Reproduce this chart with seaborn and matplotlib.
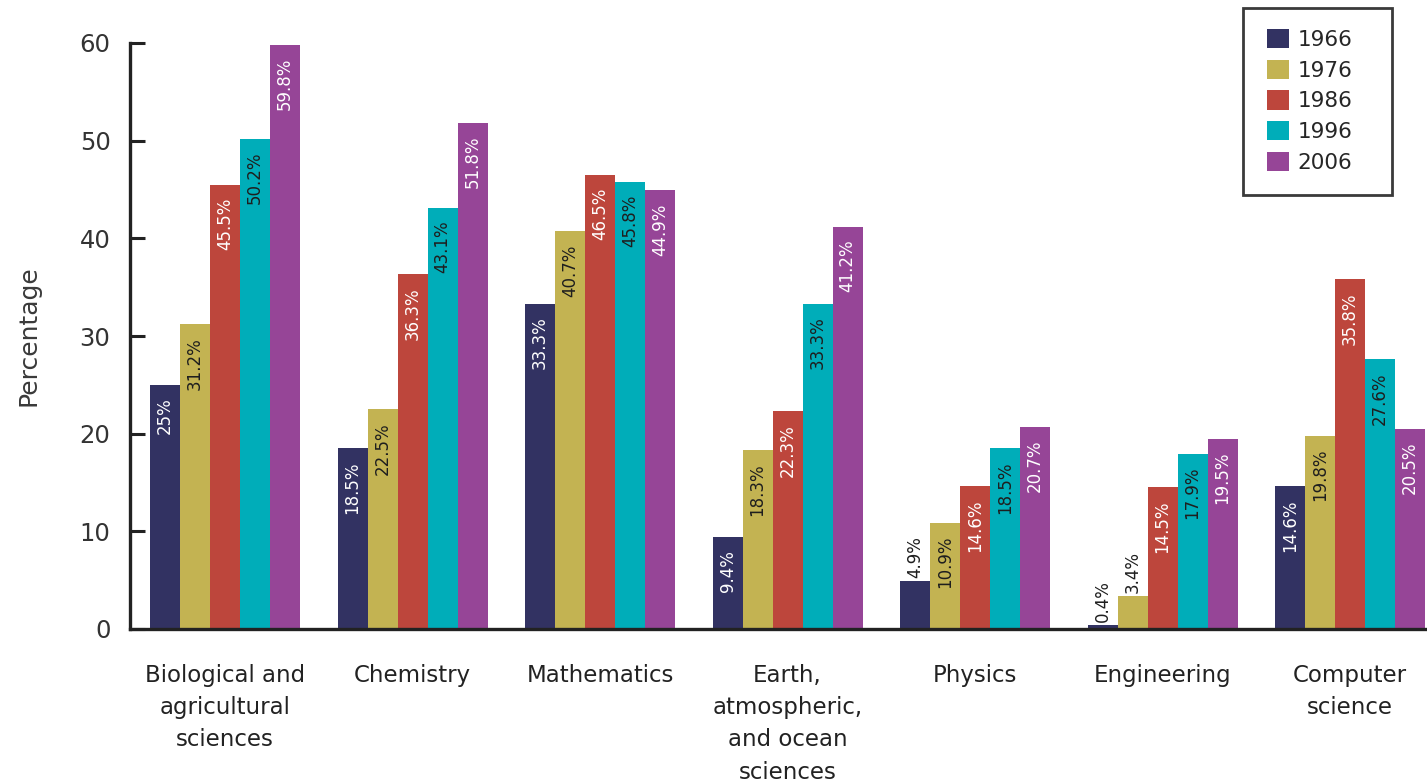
import matplotlib
matplotlib.use("Agg")
import matplotlib.pyplot as plt
from matplotlib.patches import Patch, Rectangle
import pandas as pd
import seaborn as sns

# Share of doctorates earned by women, by field and year
categories = [
    "Biological and\nagricultural\nsciences",
    "Chemistry",
    "Mathematics",
    "Earth,\natmospheric,\nand ocean\nsciences",
    "Physics",
    "Engineering",
    "Computer\nscience",
]
years = ["1966", "1976", "1986", "1996", "2006"]
v1966 = [25, 18.5, 33.3, 9.4, 4.9, 0.4, 14.6]
v1976 = [31.2, 22.5, 40.7, 18.3, 10.9, 3.4, 19.8]
v1986 = [45.5, 36.3, 46.5, 22.3, 14.6, 14.5, 35.8]
v1996 = [50.2, 43.1, 45.8, 33.3, 18.5, 17.9, 27.6]
v2006 = [59.8, 51.8, 44.9, 41.2, 20.7, 19.5, 20.5]
y_ticks = [0, 10, 20, 30, 40, 50, 60]

series = dict(zip(years, [v1966, v1976, v1986, v1996, v2006]))
colors = ["#323262", "#c3b352", "#bd463c", "#00adb9", "#964597"]
label_colors = ["white", "#1e1e1e", "white", "#1e1e1e", "white"]

rows = []
for yr, vals in series.items():
    for cat, v in zip(categories, vals):
        rows.append({"field": cat, "year": yr, "pct": v})
df = pd.DataFrame(rows)

sns.set_style("white")
plt.rcParams["font.family"] = ["DejaVu Sans"]

W, H = 1427, 784
fig = plt.figure(figsize=(W / 100, H / 100), dpi=100)
ax = fig.add_axes([130 / W, (H - 629) / H, 1 - 130 / W, (629 - 43) / H])

sns.barplot(data=df, x="field", y="pct", hue="year", order=categories,
            hue_order=years, palette=colors, width=0.8, saturation=1,
            linewidth=0, errorbar=None, ax=ax, legend=False)

# Value labels, rotated, inside the top of each bar (above very short bars)
for i, cont in enumerate(ax.containers):
    vals = series[years[i]]
    for bar, v in zip(cont, vals):
        x = bar.get_x() + bar.get_width() / 2
        txt = f"{v:g}%"
        if v < 6:
            ax.text(x, v + 0.3, txt, rotation=90, ha="center", va="bottom",
                    fontsize=12, color="#1e1e1e")
        else:
            ax.text(x, v - 1.3, txt, rotation=90, ha="center", va="top",
                    fontsize=12, color=label_colors[i])

ax.set_ylim(0, 60)
ax.set_xlim(-0.507, 6.41)
ax.set_yticks(y_ticks)
ax.set_xlabel("")
ax.set_ylabel("Percentage", fontsize=18, color="#3a3a3a", labelpad=28)

ax.tick_params(axis="y", direction="in", length=11, width=2.2, color="#222222",
               labelsize=17.5, labelcolor="#333333", pad=14, left=True)
ax.tick_params(axis="x", length=0, labelsize=16.5, labelcolor="#222222", pad=25)
for lab in ax.get_xticklabels():
    lab.set_linespacing(1.52)
    lab.set_verticalalignment("top")

for side in ["top", "right"]:
    ax.spines[side].set_visible(False)
for side in ["left", "bottom"]:
    ax.spines[side].set_color("#222222")
    ax.spines[side].set_linewidth(2.4)

# Legend: boxed list of year swatches in the top-right corner
fig.patches.append(Rectangle((1243 / W, (H - 195) / H), (1392 - 1243) / W,
                             (195 - 8) / H, transform=fig.transFigure,
                             facecolor="white", edgecolor="#3a3a3a",
                             linewidth=2.0, zorder=5))
handles = [Patch(facecolor=c, edgecolor="none", label=y) for c, y in zip(colors, years)]
leg = fig.legend(handles=handles, loc="upper left",
                 bbox_to_anchor=(1267 / W, (H - 29) / H),
                 bbox_transform=fig.transFigure, fontsize=15.5, frameon=False,
                 handlelength=1.0, handleheight=1.0, handletextpad=0.42,
                 labelspacing=0.45, borderpad=0, borderaxespad=0)
leg.set_zorder(6)

fig.savefig("out.png", dpi=100)
